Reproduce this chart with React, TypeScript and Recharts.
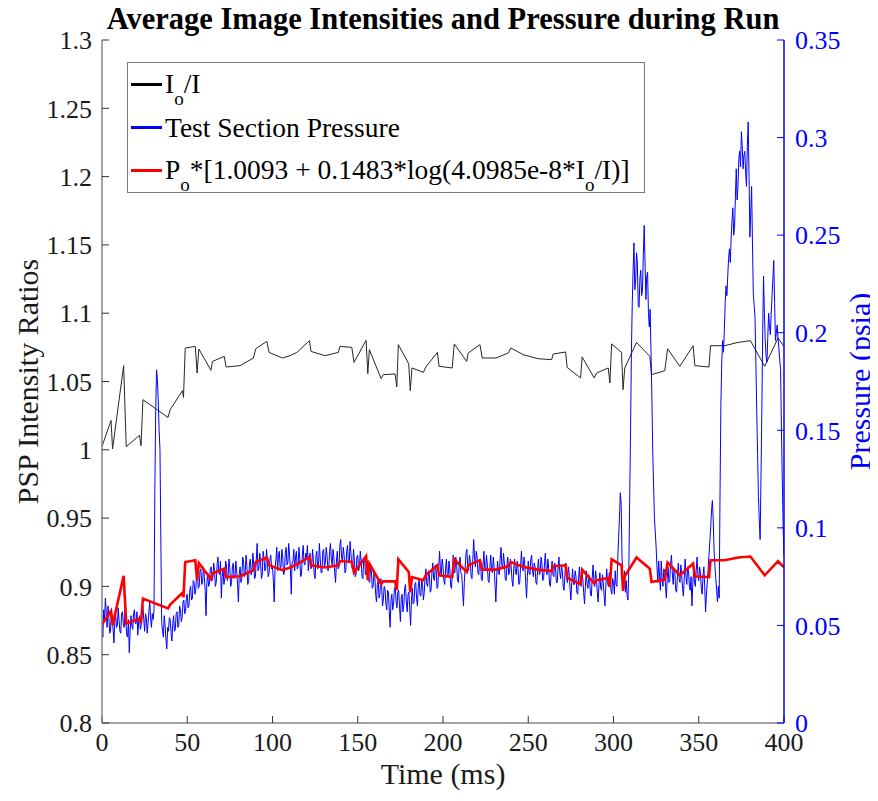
import { ComposedChart, Line, XAxis, YAxis, Legend } from "recharts";

// axis ticks
const TIME_TICKS = [0, 50, 100, 150, 200, 250, 300, 350, 400];
const RATIO_TICKS = [0.8, 0.85, 0.9, 0.95, 1, 1.05, 1.1, 1.15, 1.2, 1.25, 1.3];
const PRESSURE_TICKS = [0, 0.05, 0.1, 0.15, 0.2, 0.25, 0.3, 0.35];

// camera frames (ms) -> Io/I and PSP-derived pressure (psia)
const FRAME_TIMES = [
  0, 5.3, 6.2, 12.7, 14.2, 22.0, 22.9, 24.0, 38.7, 40.0,
  47.2, 47.8, 48.8, 54.7, 55.8, 56.8, 63.9, 64.8, 71.7, 72.8,
  81.0, 88.8, 90.2, 96.7, 98.0, 105.8, 110.3, 114.3, 121.7, 122.6,
  130.9, 138.6, 139.6, 146.5, 147.8, 154.9, 155.9, 156.8, 163.7, 165.0,
  171.9, 172.9, 173.8, 179.9, 180.8, 181.8, 188.5, 189.9, 196.7, 197.7,
  205.4, 206.6, 213.9, 214.8, 221.7, 223.0, 231.1, 238.3, 239.8, 247.1,
  255.8, 263.7, 264.6, 271.9, 272.8, 280.7, 281.6, 288.7, 290.1, 296.9,
  297.9, 298.9, 304.7, 305.6, 306.6, 313.5, 321.3, 322.3, 330.1, 331.7,
  338.9, 346.7, 347.7, 356.0, 356.9, 365.2, 373.0, 380.3, 388.7, 396.5,
  400,
];

const INTENSITY_RATIO = [
  1.0025, 1.0215, 1.0006, 1.0616, 1.0023, 1.0106, 1.003, 1.0367, 1.0237, 1.0294,
  1.0433, 1.0384, 1.0745, 1.0757, 1.0562, 1.0738, 1.0582, 1.0647, 1.0684, 1.0606,
  1.0616, 1.0672, 1.074, 1.0794, 1.0713, 1.0672, 1.0689, 1.0713, 1.0799, 1.072,
  1.0689, 1.0713, 1.0757, 1.075, 1.064, 1.0801, 1.0557, 1.0733, 1.0521, 1.055,
  1.0555, 1.046, 1.077, 1.063, 1.0433, 1.0599, 1.0567, 1.0606, 1.0713, 1.0611,
  1.0599, 1.0775, 1.0647, 1.0709, 1.077, 1.0672, 1.0672, 1.0709, 1.0745, 1.0696,
  1.0667, 1.066, 1.0701, 1.0716, 1.0603, 1.0526, 1.068, 1.0526, 1.0562, 1.0599,
  1.0489, 1.0775, 1.0713, 1.044, 1.0599, 1.0786, 1.0684, 1.055, 1.0579, 1.074,
  1.0611, 1.0762, 1.0616, 1.0606, 1.0762, 1.0762, 1.0786, 1.0799, 1.0611, 1.0819,
  1.0757,
];

const PSP_PRESSURE = [
  0.0506, 0.0574, 0.0501, 0.0754, 0.051, 0.0535, 0.0513, 0.0638, 0.0587, 0.0607,
  0.0667, 0.0645, 0.0825, 0.0834, 0.0732, 0.082, 0.0737, 0.0766, 0.0791, 0.0748,
  0.0752, 0.0783, 0.0825, 0.0848, 0.0808, 0.0783, 0.0797, 0.0814, 0.0851, 0.0808,
  0.0797, 0.0808, 0.083, 0.0825, 0.0771, 0.0855, 0.0732, 0.0817, 0.0711, 0.0726,
  0.0726, 0.068, 0.0839, 0.0774, 0.0669, 0.0748, 0.0732, 0.0757, 0.0808, 0.0757,
  0.0748, 0.0839, 0.0774, 0.0808, 0.0834, 0.0786, 0.0786, 0.0803, 0.0825, 0.08,
  0.0786, 0.0779, 0.0803, 0.0808, 0.0745, 0.0711, 0.0786, 0.0715, 0.0732, 0.0743,
  0.0697, 0.0839, 0.0808, 0.0677, 0.0752, 0.0848, 0.0791, 0.0723, 0.0735, 0.0822,
  0.0757, 0.0817, 0.0752, 0.0748, 0.0834, 0.0834, 0.0848, 0.0853, 0.0757, 0.0829,
  0.0797,
];

// transducer, one reading every 0.5 ms from t = 0, in milli-psia (one row = 10 ms)
const TEST_SECTION_MPSIA = [
  50, 44, 58, 53, 64, 56, 49, 60, 55, 46, 47, 57, 54, 48, 41, 52, 56, 49, 50, 59,
  53, 47, 46, 56, 57, 51, 49, 59, 52, 45, 44, 53, 36, 47, 55, 50, 48, 56, 58, 51,
  51, 57, 45, 52, 55, 48, 50, 58, 60, 53, 47, 56, 54, 46, 51, 57, 62, 54, 49, 56,
  53, 58, 120, 160, 181, 176, 165, 150, 140, 95, 52, 47, 44, 55, 50, 43, 38, 49, 47, 54,
  53, 46, 42, 51, 55, 47, 48, 56, 57, 49, 50, 60, 58, 52, 54, 62, 63, 56, 57, 65,
  66, 59, 60, 68, 70, 63, 64, 73, 72, 66, 68, 77, 76, 69, 70, 78, 79, 71, 72, 80,
  75, 68, 55, 72, 77, 70, 71, 79, 80, 73, 74, 82, 78, 70, 72, 81, 85, 77, 76, 83,
  64, 75, 79, 71, 74, 83, 81, 73, 76, 84, 79, 70, 72, 80, 82, 74, 75, 83, 78, 71,
  62, 76, 80, 72, 74, 85, 83, 75, 77, 86, 80, 71, 73, 82, 84, 76, 78, 87, 81, 74,
  75, 84, 92, 78, 79, 87, 83, 74, 76, 88, 85, 78, 79, 89, 82, 75, 77, 84, 86, 79,
  80, 73, 62, 79, 84, 90, 78, 86, 88, 79, 80, 89, 85, 76, 77, 87, 90, 81, 82, 92,
  86, 79, 66, 82, 83, 89, 78, 85, 88, 79, 80, 90, 84, 75, 76, 86, 91, 82, 81, 87,
  85, 91, 78, 84, 87, 79, 80, 89, 83, 76, 74, 86, 88, 79, 81, 92, 84, 77, 77, 88,
  89, 80, 82, 90, 86, 78, 79, 88, 92, 84, 81, 89, 85, 77, 72, 83, 88, 79, 80, 91,
  94, 85, 83, 90, 86, 77, 78, 88, 91, 83, 82, 93, 87, 80, 79, 89, 84, 75, 76, 85,
  86, 78, 80, 88, 83, 75, 74, 84, 85, 76, 77, 83, 81, 73, 72, 80, 78, 69, 70, 77,
  75, 66, 62, 71, 73, 64, 66, 74, 71, 60, 63, 70, 69, 61, 58, 68, 67, 57, 49, 63,
  66, 58, 61, 69, 70, 62, 59, 67, 68, 60, 52, 64, 66, 57, 60, 69, 71, 62, 57, 66,
  67, 58, 50, 63, 69, 61, 62, 71, 72, 64, 60, 70, 74, 66, 65, 73, 71, 63, 67, 75,
  79, 71, 70, 78, 76, 67, 68, 77, 82, 74, 73, 81, 78, 69, 70, 80, 88, 78, 76, 84,
  80, 73, 71, 79, 84, 76, 75, 83, 79, 70, 69, 78, 86, 77, 77, 85, 81, 73, 72, 81,
  85, 77, 76, 68, 60, 72, 80, 87, 89, 80, 78, 86, 83, 75, 74, 84, 94, 85, 80, 88,
  85, 77, 76, 84, 82, 74, 73, 81, 88, 79, 78, 86, 81, 73, 72, 80, 86, 78, 77, 85,
  80, 71, 62, 75, 83, 77, 76, 84, 90, 81, 79, 87, 82, 74, 73, 81, 85, 76, 77, 84,
  80, 73, 70, 79, 84, 77, 76, 83, 79, 71, 72, 80, 88, 80, 78, 85, 81, 72, 64, 75,
  83, 77, 76, 84, 86, 78, 75, 82, 80, 72, 71, 79, 84, 76, 77, 85, 82, 73, 74, 81,
  87, 79, 76, 84, 79, 71, 70, 78, 83, 76, 75, 82, 80, 72, 72, 80, 85, 77, 74, 81,
  78, 70, 68, 76, 82, 74, 72, 80, 77, 69, 63, 72, 79, 71, 71, 78, 75, 67, 66, 74,
  80, 72, 70, 77, 74, 67, 61, 70, 78, 71, 69, 76, 73, 66, 65, 74, 81, 73, 70, 78,
  74, 67, 62, 71, 77, 69, 68, 76, 72, 65, 60, 70, 79, 72, 70, 77, 75, 68, 66, 74,
  72, 66, 78, 71, 70, 84, 95, 105, 118, 112, 85, 76, 72, 78, 67, 73, 65, 63, 80, 115,
  150, 190, 215, 232, 246, 222, 226, 241, 236, 214, 213, 228, 232, 219, 222, 240, 255, 236, 217, 229,
  231, 210, 203, 212, 190, 168, 140, 122, 105, 98, 90, 80, 72, 83, 75, 68, 83, 74, 70, 79,
  78, 70, 64, 74, 80, 72, 73, 82, 86, 77, 71, 79, 77, 68, 67, 75, 82, 74, 72, 81,
  76, 69, 65, 74, 84, 75, 71, 80, 78, 70, 68, 75, 60, 71, 79, 72, 70, 78, 85, 76,
  73, 80, 77, 69, 66, 75, 80, 70, 57, 66, 72, 79, 86, 93, 100, 109, 114, 104, 88, 80,
  74, 68, 62, 70, 64, 120, 164, 185, 196, 190, 201, 215, 224, 219, 229, 238, 243, 236, 249, 257,
  264, 250, 254, 270, 284, 268, 275, 289, 293, 285, 303, 296, 284, 291, 293, 282, 275, 296, 308, 280,
  249, 262, 275, 246, 220, 214, 208, 185, 160, 138, 116, 104, 94, 125, 160, 200, 229, 210, 196, 188,
  185, 198, 210, 203, 199, 210, 219, 228, 237, 215, 196, 200, 204, 197, 192, 186, 181, 150, 125, 100,
  86,
];

const frameData = FRAME_TIMES.map((t, i) => ({
  t,
  ratio: INTENSITY_RATIO[i],
  psp: PSP_PRESSURE[i],
}));

const pressureData = TEST_SECTION_MPSIA.map((p, i) => ({ t: i / 2, pressure: p / 1000 }));

const TEXT = "#1a1a1a";
const AXIS_GRAY = "#858585";
const BLUE = "#0000ff";
const FONT = "Liberation Serif";

const CHART_CSS = `.chart-root svg text, .chart-root svg tspan { font-family: "Liberation Serif", serif !important; }`;

const subStyle = { fontSize: 19, verticalAlign: -12, lineHeight: 0 } as const;

function LegendBox() {
  const rows = [
    { color: "#000000", label: <>I<sub style={subStyle}>o</sub>/I</> },
    { color: BLUE, label: <>Test Section Pressure</> },
    {
      color: "#ff0000",
      label: (
        <>
          P<sub style={subStyle}>o</sub>*[1.0093 + 0.1483*log(4.0985e-8*I
          <sub style={subStyle}>o</sub>/I)]
        </>
      ),
    },
  ];
  return (
    <div
      style={{
        width: 518,
        height: 131,
        boxSizing: "border-box",
        border: "1px solid #7a7a7a",
        background: "#fff",
        fontFamily: FONT,
        fontSize: 27.5,
        color: "#000",
      }}
    >
      {rows.map((r, i) => (
        <div key={i} style={{ height: 43, display: "flex", alignItems: "center" }}>
          <div style={{ width: 31, height: 3, marginLeft: 3, marginRight: 3, background: r.color }} />
          <span style={{ lineHeight: 1, whiteSpace: "nowrap" }}>{r.label}</span>
        </div>
      ))}
    </div>
  );
}

const tickFont = { fontSize: 26, fontFamily: FONT };

export default function App() {
  return (
    <div className="chart-root" style={{ position: "relative", width: 870, height: 785, fontFamily: FONT }}>
      <style>{CHART_CSS}</style>
      <div
        style={{
          position: "absolute",
          left: 94,
          top: -4,
          width: 682,
          textAlign: "center",
          fontFamily: FONT,
          fontWeight: "bold",
          fontSize: 30.5,
          lineHeight: "30px",
          color: "#000",
          whiteSpace: "nowrap",
          zIndex: 2,
        }}
      >
        Average Image Intensities and Pressure during Run
      </div>
      <ComposedChart width={870} height={785} data={frameData} margin={{ top: 32, right: 0, bottom: 0, left: 0 }}>
        <XAxis
          xAxisId="time"
          dataKey="t"
          type="number"
          domain={[0, 400]}
          ticks={TIME_TICKS}
          interval={0}
          allowDataOverflow
          height={70}
          axisLine={{ stroke: AXIS_GRAY, strokeWidth: 1.5 }}
          tickLine={{ stroke: "#333" }}
          tickSize={-7}
          tickMargin={17}
          tick={{ ...tickFont, fill: TEXT }}
          label={{ value: "Time (ms)", position: "insideBottom", offset: 9, fontSize: 30, fill: TEXT }}
        />
        <XAxis
          xAxisId="top"
          orientation="top"
          type="number"
          domain={[0, 400]}
          ticks={TIME_TICKS}
          interval={0}
          allowDataOverflow
          height={0}
          tick={false}
          axisLine={{ stroke: AXIS_GRAY, strokeWidth: 1.5 }}
          tickLine={{ stroke: "#333" }}
          tickSize={-7}
        />
        <YAxis
          yAxisId="ratio"
          domain={[0.8, 1.3]}
          ticks={RATIO_TICKS}
          interval={0}
          allowDataOverflow
          width={94}
          axisLine={{ stroke: AXIS_GRAY, strokeWidth: 1.5 }}
          tickLine={{ stroke: "#333" }}
          tickSize={-7}
          tickMargin={17}
          tick={{ ...tickFont, fill: TEXT }}
          label={{
            value: "PSP Intensity Ratios",
            angle: -90,
            position: "insideLeft",
            offset: 19,
            fontSize: 30,
            fill: TEXT,
            style: { textAnchor: "middle" },
          }}
        />
        <YAxis
          yAxisId="pressure"
          orientation="right"
          domain={[0, 0.35]}
          ticks={PRESSURE_TICKS}
          interval={0}
          allowDataOverflow
          width={94}
          axisLine={{ stroke: BLUE, strokeWidth: 1.5 }}
          tickLine={{ stroke: BLUE }}
          tickSize={-7}
          tickMargin={18}
          tick={{ ...tickFont, fill: BLUE }}
          label={{
            value: "Pressure (psia)",
            angle: -90,
            position: "insideRight",
            offset: 19,
            fontSize: 30,
            fill: BLUE,
            style: { textAnchor: "middle" },
          }}
        />
        <Legend
          layout="horizontal"
          verticalAlign="middle"
          align="center"
          wrapperStyle={{ left: 119, top: 54, width: 518, height: 131 }}
          content={() => <LegendBox />}
        />
        <Line
          xAxisId="time"
          yAxisId="ratio"
          dataKey="ratio"
          name="Io/I"
          stroke="#262626"
          strokeWidth={1}
          dot={false}
          isAnimationActive={false}
        />
        <Line
          data={pressureData}
          xAxisId="time"
          yAxisId="pressure"
          dataKey="pressure"
          name="Test Section Pressure"
          stroke={BLUE}
          strokeWidth={1}
          dot={false}
          isAnimationActive={false}
        />
        <Line
          xAxisId="time"
          yAxisId="pressure"
          dataKey="psp"
          name="PSP pressure"
          stroke="#ff0000"
          strokeWidth={2.6}
          dot={false}
          isAnimationActive={false}
        />
      </ComposedChart>
    </div>
  );
}
